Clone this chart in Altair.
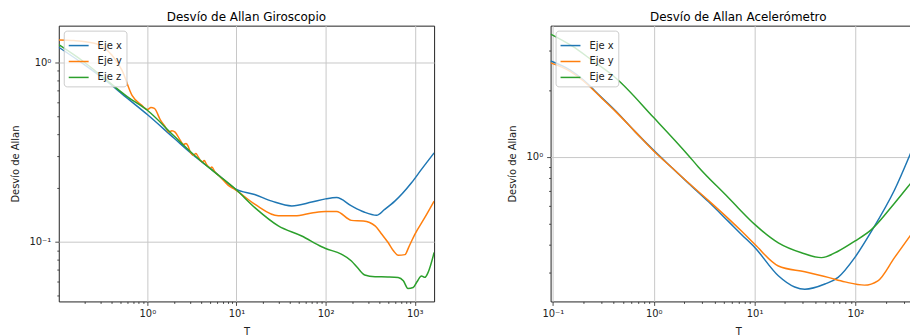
import altair as alt
import pandas as pd

series_names = ["Eje x", "Eje y", "Eje z"]
series_colors = ["#1f77b4", "#ff7f0e", "#2ca02c"]

# ---------------- Giroscopio ----------------
gyro_T_x = [0.1016, 0.2, 0.339, 0.6, 1.0, 2.0, 3.45, 6.0, 9.7, 16, 25, 41.8, 70, 100, 133, 195, 270, 373, 460, 598, 920, 1190, 1650]
gyro_v_x = [1.22, 0.97, 0.80, 0.632, 0.514, 0.379, 0.299, 0.241, 0.198, 0.184, 0.169, 0.159, 0.167, 0.174, 0.177, 0.159, 0.147, 0.141, 0.152, 0.169, 0.214, 0.254, 0.314]

gyro_T_y = [0.1016, 0.15, 0.262, 0.402, 0.521, 0.674, 0.87, 1.0, 1.1, 1.2, 1.4, 1.59, 1.75, 1.89, 2.05, 2.34, 2.55, 2.71, 2.85, 3.03, 3.3, 3.51, 3.7, 3.92, 4.15, 4.35, 4.6, 4.86, 5.1, 5.3, 5.7, 6.5, 8.1, 9.67, 16.2, 29.5, 45.4, 70, 100, 133, 195, 265, 359, 430, 505, 580, 652, 777, 860, 1000, 1300, 1650]
gyro_v_y = [1.34, 1.33, 1.28, 1.10, 0.906, 0.658, 0.578, 0.548, 0.562, 0.556, 0.48, 0.439, 0.41, 0.418, 0.41, 0.37, 0.35, 0.354, 0.345, 0.318, 0.305, 0.312, 0.30, 0.286, 0.28, 0.285, 0.272, 0.263, 0.258, 0.262, 0.247, 0.232, 0.207, 0.196, 0.162, 0.14, 0.14, 0.145, 0.148, 0.148, 0.132, 0.131, 0.123, 0.110, 0.099, 0.089, 0.0843, 0.085, 0.094, 0.110, 0.137, 0.169]

gyro_T_z = [0.1016, 0.2, 0.339, 0.6, 1.0, 2.0, 3.45, 6.0, 9.67, 16.2, 29.5, 54, 90.4, 100, 150, 195, 230, 275, 359, 500, 652, 745, 840, 960, 1060, 1190, 1300, 1410, 1650]
gyro_v_z = [1.26, 1.0, 0.81, 0.645, 0.543, 0.39, 0.302, 0.24, 0.198, 0.155, 0.123, 0.108, 0.094, 0.092, 0.0855, 0.0784, 0.0715, 0.0655, 0.064, 0.0638, 0.0633, 0.0607, 0.055, 0.0557, 0.060, 0.0647, 0.0635, 0.0675, 0.0873]

# ---------------- Acelerómetro ----------------
acc_T_x = [0.095, 0.15, 0.2, 0.3, 0.418, 0.65, 1.0, 1.5, 2.22, 3.5, 5.5, 7.5, 10.1, 17.2, 25, 31.5, 49.8, 67.3, 98.4, 144, 244, 398, 500]
acc_v_x = [2.70, 2.45, 2.22, 1.86, 1.61, 1.30, 1.067, 0.895, 0.757, 0.625, 0.510, 0.443, 0.388, 0.29, 0.258, 0.252, 0.266, 0.285, 0.35, 0.46, 0.707, 1.18, 1.5]

acc_T_y = [0.095, 0.15, 0.2, 0.3, 0.418, 0.65, 1.0, 1.5, 2.22, 3.5, 5.5, 7.5, 10.1, 17.2, 31.5, 53.6, 78.6, 123, 167, 244, 398, 500]
acc_v_y = [2.65, 2.42, 2.20, 1.85, 1.60, 1.30, 1.06, 0.895, 0.76, 0.633, 0.525, 0.459, 0.401, 0.321, 0.302, 0.285, 0.272, 0.263, 0.275, 0.35, 0.477, 0.55]

acc_T_z = [0.095, 0.156, 0.25, 0.418, 1.0, 2.22, 2.77, 5.51, 6.92, 10.1, 17.2, 29.2, 46, 67.3, 98.4, 144, 244, 398, 500]
acc_v_z = [3.57, 3.15, 2.70, 2.27, 1.50, 1.01, 0.898, 0.652, 0.585, 0.493, 0.408, 0.368, 0.35, 0.374, 0.415, 0.468, 0.616, 0.811, 0.92]

sup = {0.1: "10⁻¹", 1: "10⁰", 10: "10¹", 100: "10²", 1000: "10³"}


def make_df(T_lists, v_lists):
    rows = []
    for name, Ts, vs in zip(series_names, T_lists, v_lists):
        for t, v in zip(Ts, vs):
            rows.append({"T": t, "v": v, "serie": name})
    return pd.DataFrame(rows)


def label_expr(values):
    expr = "''"
    for val in reversed(values):
        expr = f"datum.value == {val} ? '{sup[val]}' : ({expr})"
    return expr


def minor_ticks(lo, hi):
    out = []
    for e in range(-3, 5):
        for m in range(2, 10):
            val = m * 10.0 ** e
            if lo <= val <= hi:
                out.append(round(val, 6))
    return out


def panel(df, title, xdom, ydom, xmajor, ymajor, title_x):
    xs = alt.Scale(type="log", domain=xdom, nice=False)
    ys = alt.Scale(type="log", domain=ydom, nice=False)
    lines = alt.Chart(df).mark_line(strokeWidth=1.5, clip=True, interpolate="monotone").encode(
        x=alt.X("T:Q", scale=xs, axis=alt.Axis(
            values=xmajor, labelExpr=label_expr(xmajor), grid=True, title="T",
            tickSize=4, labelPadding=3, orient="bottom",
            titleY=33, titleBaseline="alphabetic")),
        y=alt.Y("v:Q", scale=ys, axis=alt.Axis(
            values=ymajor, labelExpr=label_expr(ymajor), grid=True, title="Desvío de Allan",
            tickSize=4, labelPadding=4, orient="left",
            titleX=title_x, titleBaseline="alphabetic")),
        color=alt.Color("serie:N", scale=alt.Scale(domain=series_names, range=series_colors),
                        legend=alt.Legend(title=None, orient="top-left", offset=5,
                                          symbolType="stroke", symbolStrokeWidth=1.5,
                                          symbolSize=400, labelFontSize=10, labelOffset=8,
                                          rowPadding=-4, padding=4,
                                          fillColor="rgba(255,255,255,0.8)", strokeColor="#cccccc",
                                          cornerRadius=3)),
    )
    minor = alt.Chart(df).mark_point(opacity=0).encode(
        x=alt.X("T:Q", scale=xs, axis=alt.Axis(
            values=minor_ticks(*xdom), labels=False, grid=False, title=None,
            tickSize=2, orient="bottom")),
        y=alt.Y("v:Q", scale=ys, axis=alt.Axis(
            values=minor_ticks(*ydom), labels=False, grid=False, title=None,
            tickSize=2, orient="left")),
    )
    return alt.layer(lines, minor).resolve_axis(x="independent", y="independent").properties(
        width=377, height=277,
        title=alt.TitleParams(title, fontSize=12, fontWeight="normal", offset=-7,
                              anchor="middle", baseline="alphabetic"),
    )


gyro_df = make_df([gyro_T_x, gyro_T_y, gyro_T_z], [gyro_v_x, gyro_v_y, gyro_v_z])
acc_df = make_df([acc_T_x, acc_T_y, acc_T_z], [acc_v_x, acc_v_y, acc_v_z])

left = panel(gyro_df, "Desvío de Allan Giroscopio", [0.1016, 1650], [0.0466, 1.61],
             [1, 10, 100, 1000], [0.1, 1], -40)
right = panel(acc_df, "Desvío de Allan Acelerómetro", [0.095, 500], [0.222, 3.9],
              [0.1, 1, 10, 100], [1], -35)

chart = alt.hconcat(left, right, spacing=117, bounds="flush").resolve_legend(
    color="independent"
).resolve_scale(color="independent").properties(
    padding={"left": 2, "top": 1, "right": -20, "bottom": 0}
).configure(
    font="DejaVu Sans"
).configure_view(stroke="#222222", strokeWidth=1).configure_axis(
    domain=False, tickColor="#222222", tickWidth=0.8, labelColor="#222222", titleColor="#222222",
    labelFontSize=10, titleFontSize=10, titleFontWeight="normal",
    gridColor="#c8c8c8", gridWidth=1,
).configure_legend(labelColor="#222222")

chart.save("out.html", embed_options={"renderer": "svg", "actions": False})
